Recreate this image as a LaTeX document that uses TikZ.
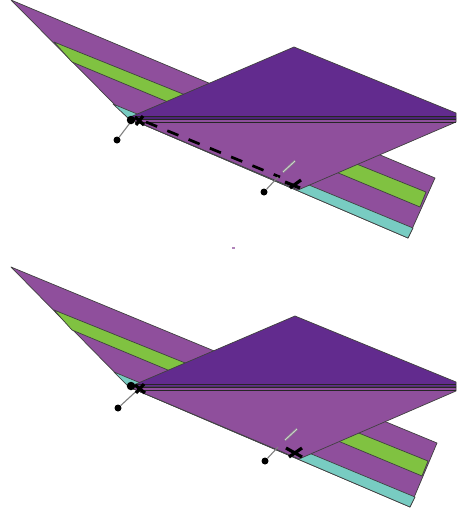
\documentclass[tikz,border=0pt]{standalone}
\definecolor{midpurple}{HTML}{8F4F9C}
\definecolor{darkpurple}{HTML}{622B8E}
\definecolor{bandpurple}{HTML}{4E2378}
\definecolor{leafgreen}{HTML}{80C241}
\definecolor{tealband}{HTML}{78CCC2}
\tikzset{
  sheet/.style={draw=black!75!white,line width=0.7pt,line join=round},
  pointer/.style={draw=gray,line width=1.1pt},
  dot/.style={circle,fill=black,inner sep=0pt,minimum size=7pt},
  crossmark/.style={draw=black,line width=3.2pt},
  dashline/.style={draw=black,line width=2.7pt,dash pattern=on 12pt off 11pt},
  thinpair/.style={draw=gray!90,line width=2.2pt},
  thincore/.style={draw=gray!35,line width=0.8pt},
  bandline/.style={draw=black!85,line width=0.9pt},
}
\begin{document}
\begin{tikzpicture}[x=1pt,y=-1pt]
\useasboundingbox[fill=white] (0,0) rectangle (456,514);
% ---------- top figure
\coordinate (tipA) at (11,0);
\coordinate (trA) at (435,178);
\coordinate (brA) at (408,238);
\coordinate (cA) at (128,118);
\coordinate (topA) at (294,47);
\coordinate (botA) at (298,190);
\fill[midpurple,sheet] (tipA) -- (trA) -- (brA) -- (cA) -- cycle;
\fill[leafgreen,sheet] (54,42) -- (426,192) -- (420,207) -- (72,62) -- cycle;
\fill[tealband,sheet] (113,104) -- (413,228) -- (408,238) -- (128,118) -- cycle;
\fill[darkpurple,sheet] (cA) -- (topA) -- (456,113) -- (456,119) -- (135,119) -- cycle;
\fill[midpurple,sheet] (cA) -- (135,119) -- (456,119) -- (456,122) -- (botA) -- cycle;
\fill[bandpurple] (135,116) rectangle (456,119);
\draw[bandline] (135,116) -- (456,116);
\draw[bandline] (135,119) -- (456,119);
\draw[bandline] (135,122) -- (456,122);
\draw[dashline] (146,122) -- (280,177);
\node[dot] (a1) at (117,140) {};
\node[dot] (a2) at (264,192) {};
\coordinate (a1e) at (133,119);
\coordinate (a2e) at (278,177);
\draw[pointer] (a1) -- (a1e);
\draw[pointer] (a2) -- (a2e);
\draw[thinpair] (283,172) -- (295,161);
\draw[thincore] (283,172) -- (295,161);
\node[dot,minimum size=8.5pt] (a3) at (131,120) {};
\draw[crossmark] (135,117) -- (144,125) (136,125) -- (143,116);
\draw[crossmark] (285,182) -- (300,188) (290,188) -- (301,180);
\fill[midpurple!70] (231.5,247) rectangle (234.5,248.5);
% ---------- bottom figure
\coordinate (tipB) at (11,267);
\coordinate (trB) at (437,443);
\coordinate (brB) at (410,507);
\coordinate (cB) at (129,387);
\coordinate (topB) at (295,316);
\coordinate (botB) at (299,459);
\fill[midpurple,sheet] (tipB) -- (trB) -- (brB) -- (cB) -- cycle;
\fill[leafgreen,sheet] (54,310) -- (428,461) -- (422,476) -- (72,330) -- cycle;
\fill[tealband,sheet] (114,372) -- (415,497) -- (410,507) -- (129,387) -- cycle;
\fill[darkpurple,sheet] (cB) -- (topB) -- (456,382) -- (456,387) -- (136,387) -- cycle;
\fill[midpurple,sheet] (cB) -- (136,387) -- (456,387) -- (456,391) -- (botB) -- cycle;
\draw[bandline] (136,384) -- (456,384);
\draw[bandline] (136,387) -- (456,387);
\draw[bandline] (136,390) -- (456,390);
\node[dot] (b1) at (118,408) {};
\node[dot] (b2) at (265,461) {};
\coordinate (b1e) at (143,385);
\coordinate (b2e) at (278,447);
\draw[pointer] (b1) -- (b1e);
\draw[pointer] (b2) -- (b2e);
\draw[thinpair] (285,440) -- (297,429);
\draw[thincore] (285,440) -- (297,429);
\node[dot,minimum size=8.5pt] (b3) at (131,386) {};
\draw[crossmark] (135,385) -- (145,393) (136,393) -- (144,384);
\draw[crossmark] (286,448) -- (302,457) (289,457) -- (302,448);
\end{tikzpicture}
\end{document}
